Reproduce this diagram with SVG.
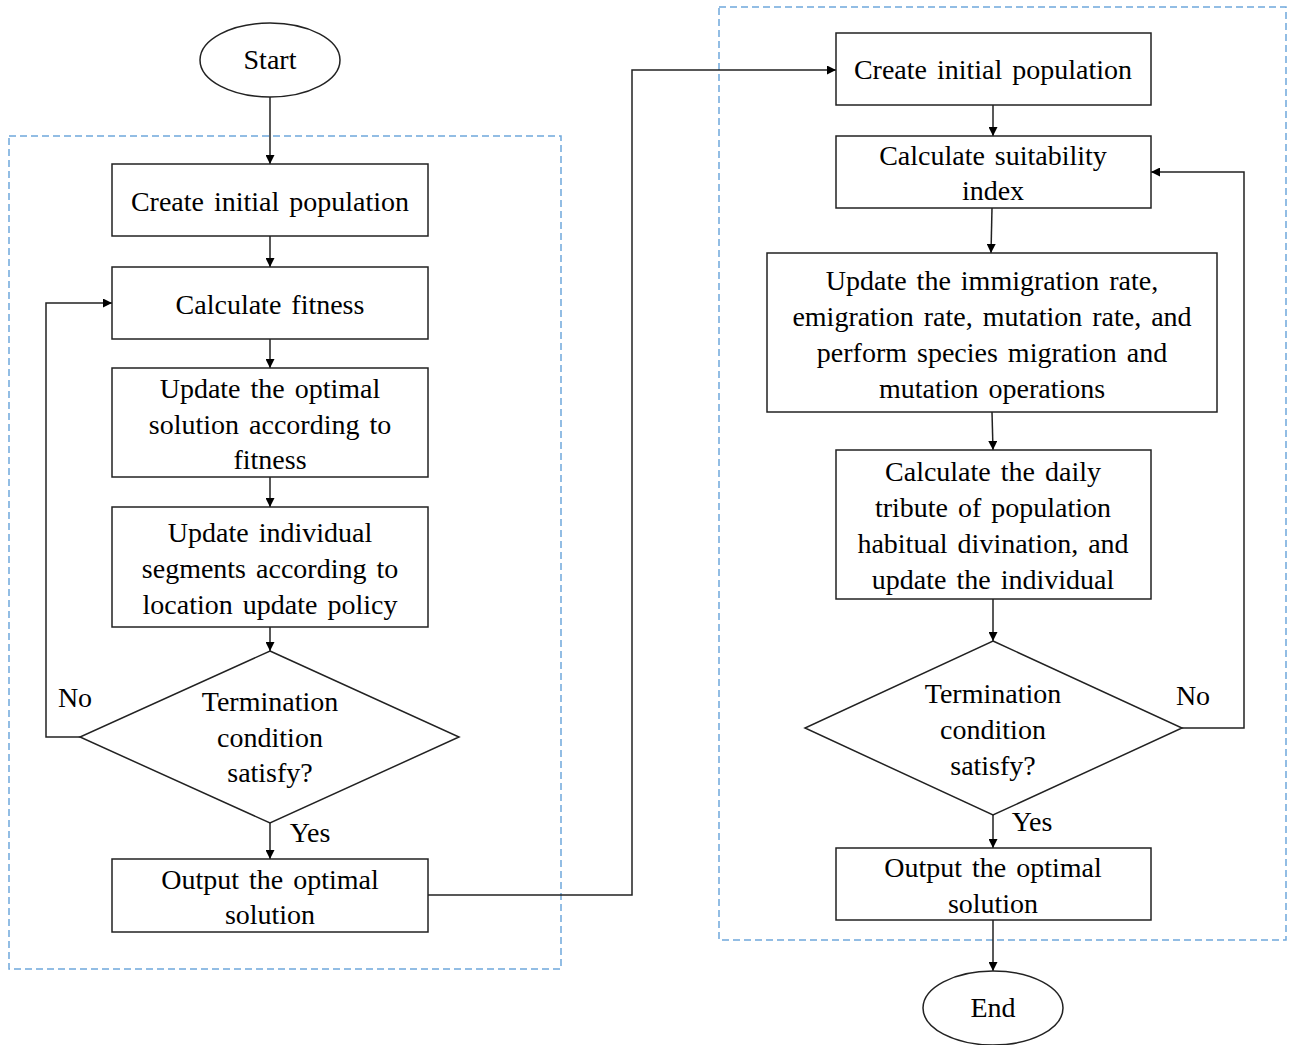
<svg xmlns="http://www.w3.org/2000/svg" width="1292" height="1045" viewBox="0 0 1292 1045">
<defs>
<marker id="arr" viewBox="0 0 10 10" refX="10" refY="5" markerWidth="9" markerHeight="9" markerUnits="userSpaceOnUse" orient="auto">
<path d="M0,0 L10,5 L0,10 z" fill="#000"/>
</marker>
</defs>
<style>
.box{fill:#fff;stroke:#222;stroke-width:1.5}
.grp{fill:none;stroke:#6FA8DC;stroke-width:1.5;stroke-dasharray:7,4}
.ln{fill:none;stroke:#222;stroke-width:1.5}
.ar{fill:none;stroke:#222;stroke-width:1.5;marker-end:url(#arr)}
text{font-family:"Liberation Serif","Times New Roman",serif;font-size:28px;fill:#000;text-anchor:middle;word-spacing:3px}
</style>
<rect width="1292" height="1045" fill="#fff"/>
<g id="groups">
<rect class="grp" x="9" y="136" width="552" height="833"/>
<rect class="grp" x="719" y="7" width="567" height="933"/>
</g>
<g id="connectors">
<line class="ar" x1="270" y1="97" x2="270" y2="164"/>
<line class="ar" x1="270" y1="236" x2="270" y2="267"/>
<line class="ar" x1="270" y1="339" x2="270" y2="368"/>
<line class="ar" x1="270" y1="477" x2="270" y2="507"/>
<line class="ar" x1="270" y1="627" x2="270" y2="651"/>
<line class="ar" x1="270" y1="823" x2="270" y2="859"/>
<polyline class="ar" points="80,737 46,737 46,303 112,303"/>
<polyline class="ar" points="428,895 632,895 632,70 836,70"/>
<line class="ar" x1="993" y1="105" x2="993" y2="136"/>
<line class="ar" x1="992" y1="208" x2="991" y2="253"/>
<line class="ar" x1="992" y1="412" x2="993" y2="450"/>
<line class="ar" x1="993" y1="599" x2="993" y2="641"/>
<line class="ar" x1="993" y1="815" x2="993" y2="848"/>
<line class="ar" x1="993" y1="920" x2="993" y2="971"/>
<polyline class="ar" points="1182,728 1244,728 1244,172 1151,172"/>
<text x="75" y="707">No</text>
<text x="310" y="842">Yes</text>
<text x="1193" y="705">No</text>
<text x="1032" y="831">Yes</text>
</g>
<g id="start">
<ellipse class="box" cx="270" cy="60" rx="70" ry="37"/>
<text x="270" y="69">Start</text>
</g>
<g id="l-create">
<rect class="box" x="112" y="164" width="316" height="72"/>
<text x="270" y="211">Create initial population</text>
</g>
<g id="l-fitness">
<rect class="box" x="112" y="267" width="316" height="72"/>
<text x="270" y="314">Calculate fitness</text>
</g>
<g id="l-update-opt">
<rect class="box" x="112" y="368" width="316" height="109"/>
<text x="270" y="398">Update the optimal</text>
<text x="270" y="434">solution according to</text>
<text x="270" y="469">fitness</text>
</g>
<g id="l-update-ind">
<rect class="box" x="112" y="507" width="316" height="120"/>
<text x="270" y="542">Update individual</text>
<text x="270" y="578">segments according to</text>
<text x="270" y="614">location update policy</text>
</g>
<g id="l-decision">
<polygon class="box" points="270,651 459,737 270,823 80,737"/>
<text x="270" y="711">Termination</text>
<text x="270" y="747">condition</text>
<text x="270" y="782">satisfy?</text>
</g>
<g id="l-output">
<rect class="box" x="112" y="859" width="316" height="73"/>
<text x="270" y="889">Output the optimal</text>
<text x="270" y="924">solution</text>
</g>
<g id="r-create">
<rect class="box" x="836" y="33" width="315" height="72"/>
<text x="993" y="79">Create initial population</text>
</g>
<g id="r-suit">
<rect class="box" x="836" y="136" width="315" height="72"/>
<text x="993" y="165">Calculate suitability</text>
<text x="993" y="200">index</text>
</g>
<g id="r-update">
<rect class="box" x="767" y="253" width="450" height="159"/>
<text x="992" y="290">Update the immigration rate,</text>
<text x="992" y="326">emigration rate, mutation rate, and</text>
<text x="992" y="362">perform species migration and</text>
<text x="992" y="398">mutation operations</text>
</g>
<g id="r-daily">
<rect class="box" x="836" y="450" width="315" height="149"/>
<text x="993" y="481">Calculate the daily</text>
<text x="993" y="517">tribute of population</text>
<text x="993" y="553">habitual divination, and</text>
<text x="993" y="589">update the individual</text>
</g>
<g id="r-decision">
<polygon class="box" points="993,641 1182,728 993,815 805,728"/>
<text x="993" y="703">Termination</text>
<text x="993" y="739">condition</text>
<text x="993" y="775">satisfy?</text>
</g>
<g id="r-output">
<rect class="box" x="836" y="848" width="315" height="72"/>
<text x="993" y="877">Output the optimal</text>
<text x="993" y="913">solution</text>
</g>
<g id="end">
<ellipse class="box" cx="993" cy="1008" rx="70" ry="37"/>
<text x="993" y="1017">End</text>
</g>
</svg>
